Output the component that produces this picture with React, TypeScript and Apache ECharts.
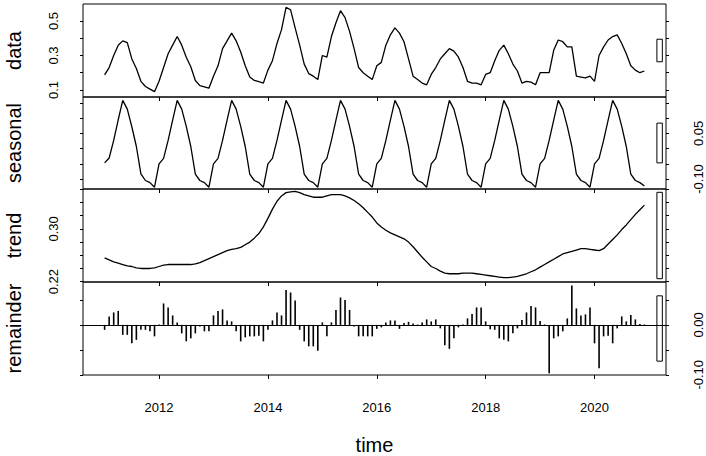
import React, { useEffect, useRef } from "react";
import * as echarts from "echarts";

const START_YEAR = 2011;
const FREQ = 12;

const dataValues = [
  0.187, 0.23, 0.3, 0.36, 0.385, 0.375, 0.28, 0.225, 0.15, 0.12, 0.105, 0.09,
  0.15, 0.23, 0.31, 0.36, 0.41, 0.36, 0.29, 0.235, 0.155, 0.125, 0.118, 0.11,
  0.18, 0.24, 0.34, 0.385, 0.43, 0.385, 0.32, 0.24, 0.175, 0.155, 0.148, 0.14,
  0.215, 0.27, 0.37, 0.45, 0.58, 0.565, 0.46, 0.36, 0.25, 0.195, 0.18, 0.16,
  0.3, 0.29, 0.41, 0.49, 0.56, 0.52, 0.44, 0.34, 0.23, 0.2, 0.18, 0.16,
  0.24, 0.26, 0.36, 0.42, 0.46, 0.43, 0.38, 0.28, 0.18, 0.16, 0.14, 0.13,
  0.19, 0.23, 0.28, 0.31, 0.34, 0.325, 0.29, 0.23, 0.15, 0.14, 0.14, 0.13,
  0.19, 0.2, 0.27, 0.33, 0.36, 0.31, 0.25, 0.21, 0.14, 0.15, 0.145, 0.13,
  0.2, 0.2, 0.2, 0.33, 0.39, 0.38, 0.35, 0.35, 0.18, 0.175, 0.17, 0.18,
  0.15, 0.3, 0.35, 0.39, 0.41, 0.42, 0.37, 0.31, 0.24, 0.215, 0.2, 0.21,
];

const seasonalValues = [
  -0.047, -0.031, 0.027, 0.095, 0.159, 0.13, 0.072, 0.007, -0.083, -0.105, -0.112, -0.127,
  -0.05, -0.032, 0.027, 0.094, 0.159, 0.13, 0.073, 0.007, -0.084, -0.105, -0.112, -0.127,
  -0.05, -0.032, 0.027, 0.094, 0.159, 0.13, 0.073, 0.007, -0.084, -0.105, -0.112, -0.127,
  -0.05, -0.032, 0.027, 0.094, 0.159, 0.13, 0.073, 0.007, -0.084, -0.105, -0.112, -0.127,
  -0.05, -0.032, 0.027, 0.094, 0.159, 0.13, 0.073, 0.007, -0.084, -0.105, -0.112, -0.127,
  -0.05, -0.032, 0.027, 0.094, 0.159, 0.13, 0.073, 0.007, -0.084, -0.105, -0.112, -0.127,
  -0.05, -0.032, 0.027, 0.094, 0.159, 0.13, 0.073, 0.007, -0.084, -0.105, -0.112, -0.127,
  -0.05, -0.032, 0.027, 0.094, 0.159, 0.13, 0.073, 0.007, -0.084, -0.105, -0.112, -0.127,
  -0.05, -0.032, 0.027, 0.094, 0.159, 0.13, 0.073, 0.007, -0.084, -0.105, -0.112, -0.127,
  -0.05, -0.032, 0.027, 0.094, 0.159, 0.13, 0.073, 0.007, -0.084, -0.105, -0.112, -0.123,
];

const trendValues = [
  0.256, 0.253, 0.25, 0.248, 0.246, 0.244, 0.243, 0.241, 0.24, 0.24, 0.24, 0.241,
  0.243, 0.245, 0.246, 0.246, 0.246, 0.246, 0.246, 0.246, 0.247, 0.249, 0.252, 0.255,
  0.258, 0.261, 0.264, 0.267, 0.269, 0.27, 0.272, 0.276, 0.28, 0.286, 0.293, 0.303,
  0.316, 0.33, 0.342, 0.35, 0.355, 0.356, 0.357, 0.355, 0.352, 0.35, 0.348, 0.348,
  0.348, 0.35, 0.352, 0.352, 0.352, 0.35, 0.347, 0.343, 0.338, 0.332, 0.325, 0.318,
  0.309, 0.303, 0.298, 0.294, 0.291, 0.288, 0.285, 0.28, 0.273, 0.265, 0.257, 0.25,
  0.243, 0.24, 0.236, 0.233, 0.232, 0.232, 0.232, 0.233, 0.233, 0.233, 0.232, 0.231,
  0.23, 0.229, 0.228, 0.227, 0.226, 0.226, 0.227, 0.228, 0.23, 0.232, 0.235, 0.238,
  0.242, 0.246, 0.25, 0.254, 0.258, 0.262, 0.264, 0.266, 0.268, 0.27, 0.27, 0.269,
  0.268, 0.267, 0.27, 0.277, 0.284, 0.291, 0.299, 0.306, 0.314, 0.322, 0.329, 0.336,
];

const remainderValues = [
  -0.01, 0.017, 0.025, 0.028, -0.02, -0.02, -0.037, -0.03, -0.01, -0.01, -0.013, -0.023,
  0.001, 0.043, 0.035, 0.019, 0.005, -0.017, -0.033, -0.027, -0.017, -0.003, -0.013, -0.013,
  0.019, 0.028, 0.031, 0.009, 0.007, -0.013, -0.033, -0.025, -0.023, -0.023, -0.022, -0.033,
  -0.01, 0.009, 0.025, 0.019, 0.07, 0.065, 0.049, -0.01, -0.033, -0.043, -0.043, -0.052,
  0.005, -0.023, 0.005, 0.03, 0.055, 0.05, 0.03, -0.003, -0.023, -0.023, -0.023, -0.023,
  -0.008, -0.005, 0.005, 0.009, 0.009, -0.008, 0.004, 0.006, 0.003, 0.001, 0.005, 0.011,
  0.007, 0.011, -0.007, -0.041, -0.048, -0.027, -0.005, 0.001, 0.013, 0.022, 0.035, 0.035,
  0.007, -0.009, -0.01, -0.027, -0.03, -0.033, -0.017, -0.007, 0.01, 0.025, 0.038, 0.035,
  0.008, 0.001, -0.097, -0.027, -0.023, -0.013, 0.013, 0.079, 0.033, 0.019, 0.021, 0.035,
  -0.037, -0.087, -0.023, -0.022, -0.037, -0.007, 0.017, 0.007, 0.02, 0.011, 0.002, 0.001,
];

const yearTicks = [2012, 2014, 2016, 2018, 2020];
const panelNames = ["data", "seasonal", "trend", "remainder"];
const dataTicks = [0.1, 0.2, 0.3, 0.4, 0.5];
const dataLabels = [0.1, 0.3, 0.5];
const seasonalTicks = [-0.1, -0.05, 0, 0.05, 0.1, 0.15];
const seasonalLabels = [-0.1, 0.05];
const trendTicks = [0.22, 0.24, 0.26, 0.28, 0.3, 0.32, 0.34, 0.36];
const trendLabels = [0.22, 0.3];
const remainderTicks = [-0.1, -0.05, 0, 0.05];
const remainderLabels = [-0.1, 0];

const FONT = "'Liberation Sans', Arial, Helvetica, sans-serif";

export default function App() {
  const ref = useRef<HTMLDivElement>(null);

  useEffect(() => {
    if (!ref.current) return;
    const chart = echarts.init(ref.current, null, { renderer: "svg" });

    const times = dataValues.map((_, i) => START_YEAR + i / FREQ);
    const X_MIN = 2010.603;
    const X_MAX = 2021.313;

    const panels = [
      { values: dataValues, min: 0.059, max: 0.599, ticks: dataTicks, labels: dataLabels, dec: 1, labelSide: "left" },
      { values: seasonalValues, min: -0.133, max: 0.17, ticks: seasonalTicks, labels: seasonalLabels, dec: 2, labelSide: "right" },
      { values: trendValues, min: 0.2195, max: 0.3605, ticks: trendTicks, labels: trendLabels, dec: 2, labelSide: "left" },
      { values: remainderValues, min: -0.1005, max: 0.086, ticks: remainderTicks, labels: remainderLabels, dec: 2, labelSide: "right" },
    ];

    const tops = [4, 97, 189, 282];
    const heights = [93, 92, 93, 93];

    const ranges = panels.map((p) => Math.max(...p.values) - Math.min(...p.values));
    const barH = Math.min(...ranges);
    const dx = (X_MAX - X_MIN) / 64;
    const bx0 = X_MAX - dx;
    const bx1 = X_MAX - 0.4 * dx;

    const grids = panels.map((_, i) => ({
      left: 83,
      right: 40,
      top: tops[i],
      height: heights[i],
      show: true,
      containLabel: false,
      outerBoundsMode: "none",
      borderColor: "#000",
      borderWidth: 1,
      backgroundColor: "transparent",
    }));

    const xAxes = panels.map((_, i) => ({
      type: "value",
      gridIndex: i,
      position: "bottom",
      min: X_MIN,
      max: X_MAX,
      axisLine: { show: false, onZero: false },
      splitLine: { show: false },
      axisTick: { show: true, inside: false, length: 4, customValues: yearTicks, lineStyle: { color: "#000", width: 1 } },
      axisLabel: {
        show: i === 3,
        customValues: yearTicks,
        margin: 26,
        fontSize: 13,
        color: "#000",
        fontFamily: FONT,
        formatter: (v: number) => String(v),
      },
      name: i === 3 ? "time" : "",
      nameLocation: "middle",
      nameGap: 60,
      nameTextStyle: { fontSize: 20, color: "#000", fontFamily: FONT },
    }));

    const yAxes: any[] = [];
    panels.forEach((p, i) => {
      ["left", "right"].forEach((side) => {
        const showLabels = side === p.labelSide;
        yAxes.push({
          type: "value",
          gridIndex: i,
          position: side,
          min: p.min,
          max: p.max,
          axisLine: { show: false, onZero: false },
          splitLine: { show: false },
          axisTick: { show: true, inside: false, length: 3, customValues: p.ticks, lineStyle: { color: "#000", width: 1 } },
          axisLabel: {
            show: showLabels,
            customValues: p.labels,
            rotate: 90,
            margin: side === "left" ? 23 : 26,
            fontSize: 13,
            color: "#000",
            fontFamily: FONT,
            formatter: (v: number) => v.toFixed(p.dec),
          },
          name: side === "left" ? panelNames[i] : "",
          nameLocation: "middle",
          nameRotate: 90,
          nameGap: 59,
          nameTextStyle: { fontSize: 20, color: "#000", fontFamily: FONT },
        });
      });
    });

    const rangeBar = (p: any) => {
      const cy = (p.min + p.max) / 2;
      return {
        silent: true,
        itemStyle: { color: "rgba(0,0,0,0)", borderColor: "#000", borderWidth: 1 },
        label: { show: false },
        data: [[{ coord: [bx0, cy - barH / 2] }, { coord: [bx1, cy + barH / 2] }]],
      };
    };

    const series: any[] = panels.map((p, i) => {
      const pts = p.values.map((v, k) => [times[k], v]);
      if (i < 3) {
        return {
          type: "line",
          xAxisIndex: i,
          yAxisIndex: i * 2,
          data: pts,
          showSymbol: false,
          symbol: "none",
          lineStyle: { color: "#000", width: 1.3 },
          silent: true,
          markArea: rangeBar(p),
        };
      }
      return {
        type: "bar",
        xAxisIndex: i,
        yAxisIndex: i * 2,
        data: pts,
        barWidth: 1.6,
        itemStyle: { color: "#000" },
        silent: true,
        markArea: rangeBar(p),
        markLine: {
          silent: true,
          symbol: "none",
          label: { show: false },
          lineStyle: { color: "#000", type: "solid", width: 1 },
          data: [{ yAxis: 0 }],
        },
      };
    });

    chart.setOption({
      animation: false,
      backgroundColor: "#fff",
      textStyle: { fontFamily: FONT },
      grid: grids,
      xAxis: xAxes,
      yAxis: yAxes,
      series,
    });

    return () => chart.dispose();
  }, []);

  return (
    <div
      ref={ref}
      style={{ position: "fixed", left: 0, top: 0, width: 706, height: 456, background: "#fff" }}
    />
  );
}
